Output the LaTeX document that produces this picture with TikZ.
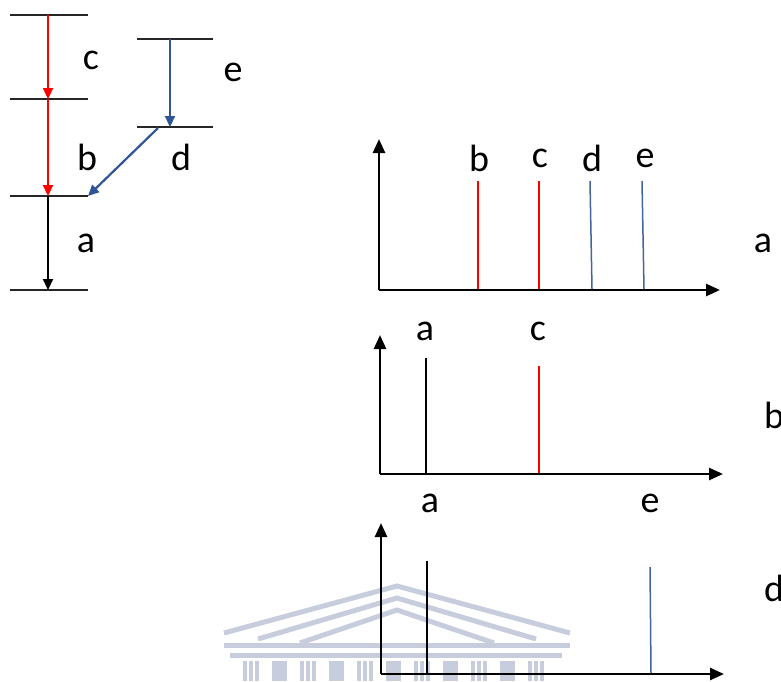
\documentclass[tikz,border=0pt]{standalone}
\usepackage{fontspec}
\setmainfont{Carlito}
\usetikzlibrary{arrows.meta}
\definecolor{myred}{RGB}{255,0,0}
\definecolor{myblue}{RGB}{47,85,151}
\definecolor{specblue}{RGB}{68,100,160}
\definecolor{wmark}{RGB}{200,205,222}
\tikzset{
  lvl/.style={line width=1.6pt, draw=black!85},
  trans/.style={line width=2.2pt, -{Triangle[length=11pt,width=10pt]}},
  axis/.style={line width=2.6pt, -{Triangle[length=14pt,width=12pt]}},
  peak/.style={line width=1.5pt},
  lab/.style={font=\fontsize{38}{38}\selectfont, inner sep=0pt, anchor=center},
  wm/.style={draw=wmark, line width=5pt}
}
\begin{document}
\begin{tikzpicture}[x=1pt,y=-1pt]
\useasboundingbox (0,0) rectangle (781,681);
% faint watermark
\draw[wm] (224,633) -- (397,586) -- (570,633);
\draw[wm] (258,639) -- (397,598) -- (536,639);
\draw[wm] (300,643) -- (397,610) -- (494,643);
\draw[wm] (224,645) -- (570,645);
\draw[wm] (230,655) -- (562,655);
\foreach \k in {0,...,5}{
  \fill[wmark] (243+57*\k,661) rectangle ++(4,20);
  \fill[wmark] (249+57*\k,661) rectangle ++(4,20);
  \fill[wmark] (255+57*\k,661) rectangle ++(4,20);
}
\foreach \k in {0,...,4}{
  \fill[wmark] (272+57*\k,661) rectangle ++(15,20);
}
% energy levels
\coordinate (L1a) at (10,15);  \coordinate (L1b) at (88,15);
\coordinate (L2a) at (10,99);  \coordinate (L2b) at (88,99);
\coordinate (L3a) at (10,196); \coordinate (L3b) at (88,196);
\coordinate (L4a) at (10,290); \coordinate (L4b) at (88,290);
\coordinate (R1a) at (137,39); \coordinate (R1b) at (213,39);
\coordinate (R2a) at (137,127);\coordinate (R2b) at (213,127);
\draw[lvl] (L1a) -- (L1b);
\draw[lvl] (L2a) -- (L2b);
\draw[lvl] (L3a) -- (L3b);
\draw[lvl] (L4a) -- (L4b);
\draw[lvl] (R1a) -- (R1b);
\draw[lvl] (R2a) -- (R2b);
\coordinate (t1) at (48,15);
\coordinate (t2) at (48,99);
\coordinate (t3) at (48,196);
\coordinate (t4) at (48,290);
\coordinate (u1) at (170,39);
\coordinate (u2) at (170,127);
\coordinate (v1) at (158,128);
\coordinate (v2) at (88,196);
\draw[trans, myred] (t1) -- (t2);
\draw[trans, myred] (t2) -- (t3);
\draw[trans, black] (t3) -- (t4);
\draw[trans, myblue] (u1) -- (u2);
\draw[trans, myblue] (v1) -- (v2);
\node[lab] (lc) at (91,60) {c};
\node[lab] (lb) at (87,157) {b};
\node[lab] (la) at (86,243) {a};
\node[lab] (le) at (233,72) {e};
\node[lab] (ld) at (181,157) {d};
% spectrum a
\coordinate (A0) at (379,290);
\coordinate (Ay) at (379,139);
\coordinate (Ax) at (720,290);
\draw[axis] (A0) -- (Ay);
\draw[axis] (A0) -- (Ax);
\draw[peak, myred] (478,181) -- (478,289);
\draw[peak, myred] (539,181) -- (539,289);
\draw[peak, specblue] (590,181) -- (592,289);
\draw[peak, specblue] (642,181) -- (644,289);
\node[lab] (sab) at (479,158) {b};
\node[lab] (sac) at (540,158) {c};
\node[lab] (sad) at (592,158) {d};
\node[lab] (sae) at (645,158) {e};
\node[lab] (tA) at (763,243) {a};
% spectrum b
\coordinate (B0) at (380,474);
\coordinate (By) at (380,335);
\coordinate (Bx) at (723,474);
\draw[axis] (B0) -- (By);
\draw[axis] (B0) -- (Bx);
\draw[peak, black] (426,358) -- (426,473);
\draw[peak, myred] (539,366) -- (539,473);
\node[lab] (sba) at (425,331) {a};
\node[lab] (sbc) at (538,331) {c};
\node[lab] (tB) at (774,415) {b};
% spectrum d
\coordinate (D0) at (381,674);
\coordinate (Dy) at (381,523);
\coordinate (Dx) at (724,674);
\draw[axis] (D0) -- (Dy);
\draw[axis] (D0) -- (Dx);
\draw[peak, black] (427,561) -- (427,673);
\draw[peak, specblue] (650,567) -- (651,673);
\node[lab] (sda) at (430,503) {a};
\node[lab] (sde) at (650,503) {e};
\node[lab] (tD) at (774,588) {d};
\end{tikzpicture}
\end{document}
